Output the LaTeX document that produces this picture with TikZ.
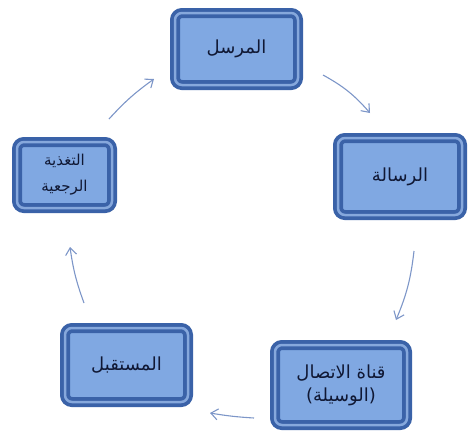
\documentclass[tikz,border=0pt]{standalone}
\usepackage{fontspec}
\TeXXeTstate=1
\newfontfamily\arabicfont[Script=Arabic]{DejaVu Sans}
\usetikzlibrary{arrows.meta,shadows}
\definecolor{inner}{RGB}{128,168,226}
\definecolor{frame}{RGB}{58,98,168}
\definecolor{gloss}{RGB}{160,192,238}
\definecolor{txt}{RGB}{16,24,52}
\definecolor{arrowc}{RGB}{125,150,200}
\tikzset{
  box/.style={rounded corners=7pt, fill=inner, draw=frame, line width=10pt,
    text=txt, align=center, font=\arabicfont\fontsize{18}{23}\selectfont,
    inner sep=0pt,
    drop shadow={shadow xshift=3pt, shadow yshift=-4pt, fill=black!50, opacity=0.45},
    postaction={draw=gloss, line width=2.5pt, draw opacity=0.75}},
  small/.style={font=\arabicfont\fontsize{15}{26}\selectfont},
  arr/.style={draw=arrowc, line width=1.1pt, -{Straight Barb[length=7pt,width=11pt]}}
}
\begin{document}
\begin{tikzpicture}[x=1pt,y=-1pt]
\useasboundingbox (0,0) rectangle (473,440);
\node[box, minimum width=123pt, minimum height=72pt] (sender) at (236.5,49) {\beginR المرسل\endR};
\node[box, minimum width=124pt, minimum height=77pt] (message) at (400,176.5) {\beginR الرسالة\endR};
\node[box, minimum width=132pt, minimum height=80pt] (channel) at (341,385) {\beginR قناة الاتصال\endR\\\beginR (الوسيلة)\endR};
\node[box, minimum width=123pt, minimum height=74pt] (receiver) at (126.5,365) {\beginR المستقبل\endR};
\node[box, small, minimum width=95pt, minimum height=66pt] (feedback) at (64.5,175) {\beginR التغذية\endR\\\beginR الرجعية\endR};
\draw[arr] ([xshift=20pt,yshift=-26pt]sender.east) to[bend left=10] ([xshift=-30pt,yshift=20pt]message.north);
\draw[arr] ([xshift=14pt,yshift=-31pt]message.south) to[bend left=8] ([xshift=55pt,yshift=20pt]channel.north);
\draw[arr] ([xshift=-16pt,yshift=-33pt]channel.west) to[bend left=3] ([xshift=17pt,yshift=-48pt]receiver.east);
\draw[arr] ([xshift=-42.5pt,yshift=20pt]receiver.north) to[bend left=6] ([xshift=5.5pt,yshift=-34pt]feedback.south);
\draw[arr] ([xshift=44.5pt,yshift=18pt]feedback.north) to[bend left=6] ([xshift=-16pt,yshift=-30pt]sender.west);
\end{tikzpicture}
\end{document}
